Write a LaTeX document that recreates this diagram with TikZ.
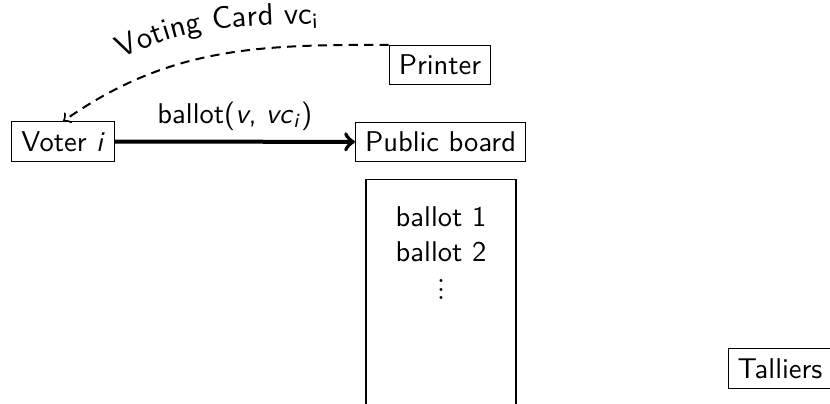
\documentclass[tikz,border=0pt]{standalone}
\usetikzlibrary{decorations.text}
\renewcommand\familydefault{\sfdefault}
\newcommand\tightvdots{\vbox{\baselineskip=3pt\lineskiplimit=0pt\hbox{$.$}\hbox{$.$}\hbox{$.$}}}
\begin{document}
\begin{tikzpicture}[x=0.35pt,y=0.35pt,
  box/.style={draw, line width=0.4pt, inner sep=0.3333em},
  flow/.style={line width=1.4pt, ->},
  card/.style={dash pattern=on 3.2pt off 2.2pt, line width=0.7pt, ->}]
\useasboundingbox (0,0) rectangle (830,404);
\clip (0,0) rectangle (830,404);
\node[box] (voter) at (63,262.5) {Voter \textit{i}};
\node[box] (board) at (440.5,262) {Public board};
\node[box] (printer) at (440,339) {Printer};
\node[box, minimum width=52.5pt, minimum height=120pt, anchor=north] (ballots) at (441,225) {};
\node[align=center, anchor=north] (list) at (441,207) {ballot 1\\ballot 2\\[1.5pt]\tightvdots};
\node[box] (talliers) at (780,35.5) {Talliers};
\draw[flow] (voter) -- node[above] (lab) {ballot(\textit{v}, \textit{vc}\textsubscript{\textit{i}})} (board);
\draw[card] (printer.north west) to[out=180, in=35] (voter.north);
\coordinate (tA) at (122,345);
\coordinate (tB) at (340,382);
\path[decorate, decoration={text along path, text={|\fontsize{10.8pt}{13pt}\selectfont|Voting Card {vc\textsubscript{i}}}, text align=left}] (tA) to[out=27, in=184] (tB);
\end{tikzpicture}
\end{document}
